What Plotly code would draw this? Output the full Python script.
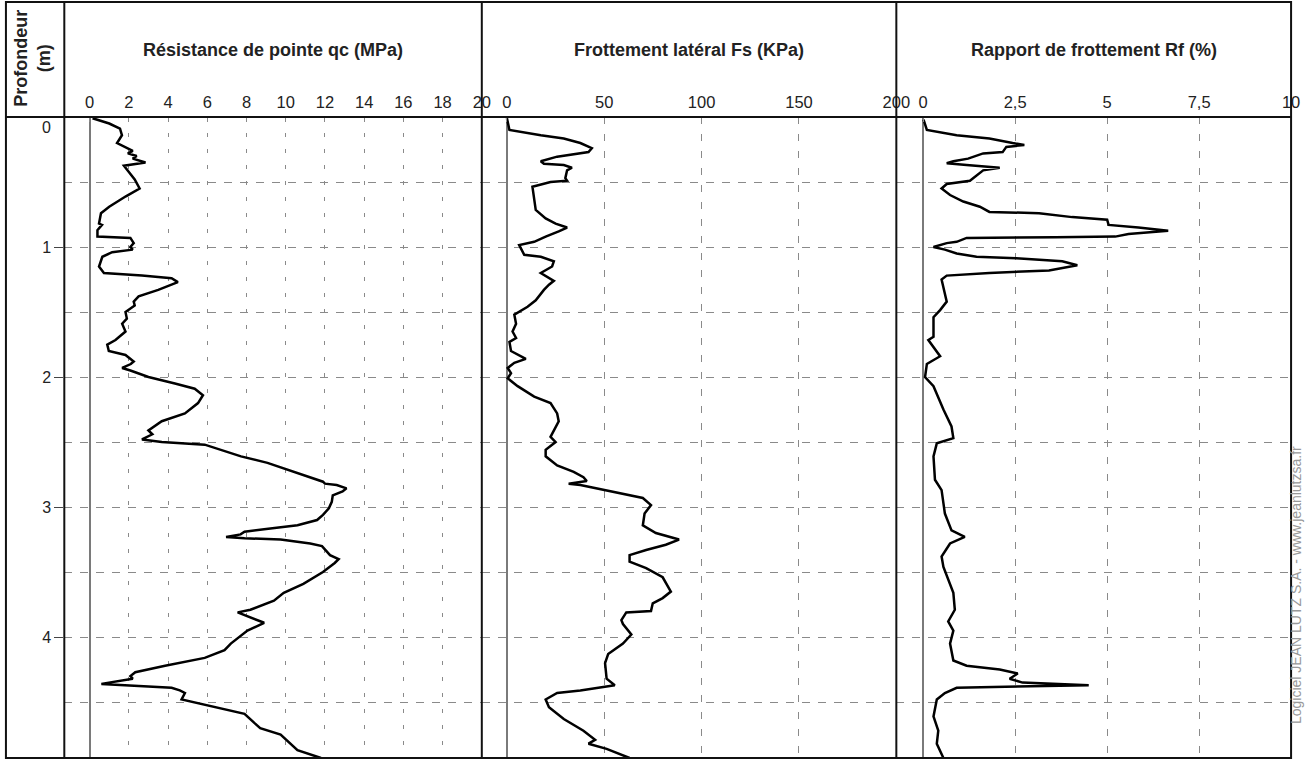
import plotly.graph_objects as go

W, H = 1312, 760

# depth axis (m)
depth_ticks = [0, 1, 2, 3, 4]

# Résistance de pointe qc (MPa)
qc_depth = [0.01, 0.05, 0.09, 0.14, 0.2, 0.23, 0.26, 0.28, 0.3, 0.32, 0.35, 0.375,
            0.42, 0.48, 0.55, 0.61, 0.69, 0.74, 0.82, 0.83, 0.87, 0.92, 0.93, 0.97,
            1.0, 1.02, 1.04, 1.075, 1.15, 1.2, 1.22, 1.24, 1.27, 1.33, 1.38, 1.42,
            1.45, 1.5, 1.55, 1.59, 1.65, 1.715, 1.75, 1.8, 1.83, 1.88, 1.9, 1.93,
            1.95, 2.0, 2.05, 2.09, 2.14, 2.2, 2.28, 2.34, 2.41, 2.44, 2.48, 2.5,
            2.52, 2.61, 2.66, 2.74, 2.805, 2.82, 2.83, 2.856, 2.88, 2.91, 2.96, 3.01,
            3.06, 3.1, 3.14, 3.17, 3.19, 3.21, 3.23, 3.24, 3.25, 3.28, 3.3, 3.37,
            3.4, 3.43, 3.5, 3.59, 3.66, 3.72, 3.79, 3.81, 3.89, 3.95, 4.05, 4.1,
            4.16, 4.22, 4.27, 4.3, 4.32, 4.36, 4.37, 4.39, 4.41, 4.43, 4.48, 4.52,
            4.59, 4.66, 4.7, 4.75, 4.8, 4.87, 4.93]
qc_values = [0.15, 1.0, 1.55, 1.65, 1.4, 1.8, 2.2, 1.95, 2.4, 2.2, 2.85, 1.75,
             2.0, 2.3, 2.55, 1.85, 1.0, 0.58, 0.48, 0.63, 0.4, 0.4, 2.08, 2.25,
             2.08, 2.2, 1.15, 0.65, 0.48, 0.73, 2.67, 4.18, 4.5, 3.5, 2.5, 2.25,
             2.3, 1.83, 1.9, 1.66, 1.83, 1.32, 0.9, 0.98, 1.83, 2.25, 2.1, 1.66,
             2.08, 3.0, 4.35, 5.36, 5.78, 5.53, 4.86, 3.68, 3.0, 3.2, 2.67, 3.68,
             5.87, 7.72, 9.07, 10.6, 11.9, 12.0, 12.6, 13.1, 12.9, 12.4, 12.35, 12.2,
             11.9, 11.6, 10.6, 8.9, 7.9, 7.7, 6.96, 7.9, 9.74, 11.25, 11.85, 12.26,
             12.7, 12.5, 11.9, 10.9, 9.9, 9.4, 8.2, 7.55, 8.9, 8.05, 7.2, 6.88,
             5.87, 3.85, 2.33, 2.08, 2.2, 0.6, 2.0, 4.18, 4.6, 4.86, 4.69, 5.87,
             7.9, 8.4, 8.7, 9.74, 10.1, 10.6, 11.8]

# Frottement latéral Fs (KPa)
fs_depth = [0.01, 0.1, 0.14, 0.165, 0.2, 0.24, 0.27, 0.305, 0.34, 0.36, 0.37, 0.39,
            0.41, 0.47, 0.49, 0.5, 0.536, 0.64, 0.715, 0.78, 0.82, 0.85, 0.88, 0.92,
            0.96, 0.985, 1.035, 1.06, 1.075, 1.11, 1.15, 1.2, 1.26, 1.29, 1.33, 1.41,
            1.46, 1.52, 1.59, 1.65, 1.7, 1.73, 1.8, 1.86, 1.89, 1.93, 1.97, 2.01,
            2.07, 2.15, 2.2, 2.28, 2.34, 2.41, 2.46, 2.5, 2.56, 2.61, 2.68, 2.73,
            2.77, 2.8, 2.82, 2.83, 2.87, 2.93, 2.985, 3.05, 3.14, 3.2, 3.25, 3.29,
            3.33, 3.37, 3.42, 3.47, 3.54, 3.65, 3.7, 3.74, 3.8, 3.81, 3.87, 3.9,
            3.98, 4.05, 4.13, 4.2, 4.32, 4.37, 4.41, 4.43, 4.48, 4.54, 4.63, 4.72,
            4.79, 4.82, 4.86, 4.93]
fs_values = [0, 1.3, 17.4, 29.2, 37.7, 43.6, 41.9, 25.8, 17.4, 19, 29.2, 33.4,
             30.9, 30, 30.9, 22.4, 13.1, 14, 14.8, 19.9, 25, 30.9, 26.6, 19.9,
             14, 6.3, 8, 8.9, 17.4, 24.1, 23.2, 17.4, 24.1, 21.6, 19, 14.8,
             10.6, 3.8, 4.7, 2.9, 4.7, 1.3, 2.1, 9.7, 3.8, 0.4, 2.1, 0.4,
             5.5, 14, 22.4, 25.8, 26.6, 24.1, 22.4, 25, 19.9, 19.9, 25.8, 34.3,
             39.3, 41, 31.7, 37.7, 51.2, 69.8, 74, 70.7, 69.8, 76.5, 88.4, 81.6,
             71.5, 63, 63, 71.5, 80, 84.2, 80, 74.9, 74, 61.3, 58.8, 59.6,
             63.9, 59.6, 52, 50.4, 51.2, 55.4, 37.7, 25.8, 19.9, 21.6, 29.2, 39.3,
             45.3, 41.9, 51.2, 63]

# Rapport de frottement Rf (%)
rf_depth = [0.02, 0.1, 0.14, 0.165, 0.2, 0.215, 0.23, 0.27, 0.28, 0.32, 0.34, 0.356,
            0.37, 0.38, 0.39, 0.41, 0.46, 0.49, 0.515, 0.55, 0.6, 0.65, 0.69, 0.73,
            0.74, 0.77, 0.79, 0.83, 0.85, 0.875, 0.9, 0.92, 0.925, 0.93, 0.96, 0.97,
            1.0, 1.02, 1.05, 1.075, 1.087, 1.11, 1.14, 1.18, 1.2, 1.22, 1.25, 1.36,
            1.42, 1.485, 1.54, 1.69, 1.715, 1.84, 1.9, 2.0, 2.07, 2.25, 2.38, 2.47,
            2.51, 2.61, 2.79, 2.87, 3.05, 3.18, 3.23, 3.28, 3.38, 3.46, 3.56, 3.66,
            3.79, 3.88, 3.95, 4.05, 4.18, 4.22, 4.25, 4.28, 4.32, 4.35, 4.37, 4.38,
            4.39, 4.43, 4.48, 4.61, 4.72, 4.82, 4.93]
rf_values = [0.01, 0.1, 0.91, 1.8, 2.43, 2.75, 2.26, 2.16, 1.63, 1.22, 0.82, 0.64,
             1.18, 1.72, 2.08, 1.63, 1.4, 1.27, 0.64, 0.5, 0.73, 1.09, 1.54, 1.8,
             3.15, 4.05, 5.0, 5.04, 5.85, 6.66, 5.58, 5.22, 3.6, 1.18, 0.91, 0.64,
             0.28, 0.59, 0.91, 1.45, 2.53, 3.78, 4.19, 3.42, 1.8, 0.64, 0.5, 0.59,
             0.64, 0.46, 0.28, 0.28, 0.14, 0.46, 0.1, 0.05, 0.28, 0.55, 0.77, 0.82,
             0.37, 0.28, 0.32, 0.5, 0.59, 0.77, 1.13, 0.73, 0.5, 0.55, 0.68, 0.82,
             0.86, 0.68, 0.82, 0.73, 0.82, 1.18, 2.08, 2.57, 2.35, 2.7, 4.5, 2.53,
             0.91, 0.59, 0.37, 0.28, 0.41, 0.37, 0.55]

titles = ["Résistance de pointe qc (MPa)",
          "Frottement latéral Fs (KPa)",
          "Rapport de frottement Rf (%)"]

FONT = "Liberation Sans, Arial, sans-serif"
GRID = "#8a8a8a"


def px(x):
    return x / W


def py(y):
    return 1 - y / H


fig = go.Figure()
curves = [(qc_values, qc_depth, "x"), (fs_values, fs_depth, "x2"), (rf_values, rf_depth, "x3")]
for vals, dep, xa in curves:
    fig.add_trace(go.Scatter(x=vals, y=dep, xaxis=xa, yaxis="y", mode="lines",
                             line=dict(color="black", width=2.5), showlegend=False,
                             hoverinfo="skip"))

# panel edges in px, and data range of each x axis
panels = [
    dict(dom=(65, 487), rng=[-1.29, 20], ticks=[0, 2, 4, 6, 8, 10, 12, 14, 16, 18, 20],
         text=None, vdash="4px,12px"),
    dict(dom=(487, 906), rng=[-12.9, 200], ticks=[0, 50, 100, 150, 200],
         text=None, vdash="7px,10px"),
    dict(dom=(906, 1305), rng=[-0.73, 10], ticks=[0, 2.5, 5, 7.5, 10],
         text=["0", "2,5", "5", "7,5", "10"], vdash="7px,10px"),
]

for i, p in enumerate(panels):
    name = "xaxis" if i == 0 else f"xaxis{i + 1}"
    ax = dict(
        domain=[px(p["dom"][0]), px(p["dom"][1])],
        range=p["rng"],
        anchor="y",
        side="top",
        tickmode="array",
        tickvals=p["ticks"],
        ticktext=p["text"] if p["text"] else [str(t) for t in p["ticks"]],
        ticks="inside",
        ticklen=5,
        tickcolor=GRID,
        tickfont=dict(family=FONT, size=16.5, color="#222"),
        ticklabelstandoff=5,
        showgrid=True,
        gridcolor=GRID,
        gridwidth=1,
        griddash=p["vdash"],
        zeroline=True,
        zerolinecolor="#7a7a7a",
        zerolinewidth=1.6,
        showline=False,
        fixedrange=True,
    )
    fig.update_layout({name: ax})
    fig.add_annotation(text=f"<b>{titles[i]}</b>", x=px((p["dom"][0] + p["dom"][1]) / 2),
                       y=py(50), xref="paper", yref="paper", xanchor="center", yanchor="middle",
                       showarrow=False, font=dict(family=FONT, size=18, color="#222"))

fig.update_layout(
    yaxis=dict(
        domain=[py(758), py(117)],
        range=[4.93, 0],
        anchor="x",
        tickmode="array",
        tickvals=depth_ticks[1:],
        ticktext=[str(t) for t in depth_ticks[1:]],
        ticks="outside",
        ticklen=9,
        tickcolor="#444",
        tickfont=dict(family=FONT, size=16, color="#222"),
        showgrid=True,
        gridcolor=GRID,
        gridwidth=1,
        griddash="8px,8px",
        minor=dict(dtick=0.5, tick0=0, showgrid=True, gridcolor=GRID,
                   gridwidth=1, griddash="8px,8px", ticks=""),
        zeroline=False,
        showline=False,
        fixedrange=True,
    ),
    width=W,
    height=H,
    autosize=False,
    margin=dict(l=0, r=0, t=0, b=0),
    paper_bgcolor="white",
    plot_bgcolor="white",
    showlegend=False,
)

# depth 0 label sits just under the header line
fig.add_annotation(text=str(depth_ticks[0]), x=px(47), y=depth_ticks[0], xref="paper", yref="y",
                   xanchor="center", yshift=-11, showarrow=False,
                   font=dict(family=FONT, size=16, color="#222"))

fig.add_annotation(text="<b>Profondeur<br>(m)</b>", x=px(32), y=py(58), xref="paper", yref="paper",
                   xanchor="center", yanchor="middle", textangle=-90, showarrow=False,
                   font=dict(family=FONT, size=18, color="#222"))

fig.add_annotation(text="Logiciel JEAN LUTZ S.A. - www.jeanlutzsa.fr", x=px(1310), y=py(585),
                   xref="paper", yref="paper", xanchor="center", yanchor="middle",
                   textangle=-90, showarrow=False,
                   font=dict(family=FONT, size=14, color="#999"))

# table frame
frame = dict(color="#111", width=2)
fig.add_shape(type="rect", xref="paper", yref="paper", x0=px(6), x1=px(1305), y0=py(758), y1=py(2),
              line=frame, layer="above")
fig.add_shape(type="line", xref="paper", yref="paper", x0=px(6), x1=px(1305), y0=py(117), y1=py(117),
              line=frame, layer="above")
for xs in [65, 487, 906]:
    fig.add_shape(type="line", xref="paper", yref="paper", x0=px(xs), x1=px(xs), y0=py(758), y1=py(2),
                  line=frame, layer="above")

# drop the page's default body margin so the figure sits at the window's corner
fig.write_html("out.html", post_script="document.body.style.margin='0';",
               config={"displayModeBar": False})
